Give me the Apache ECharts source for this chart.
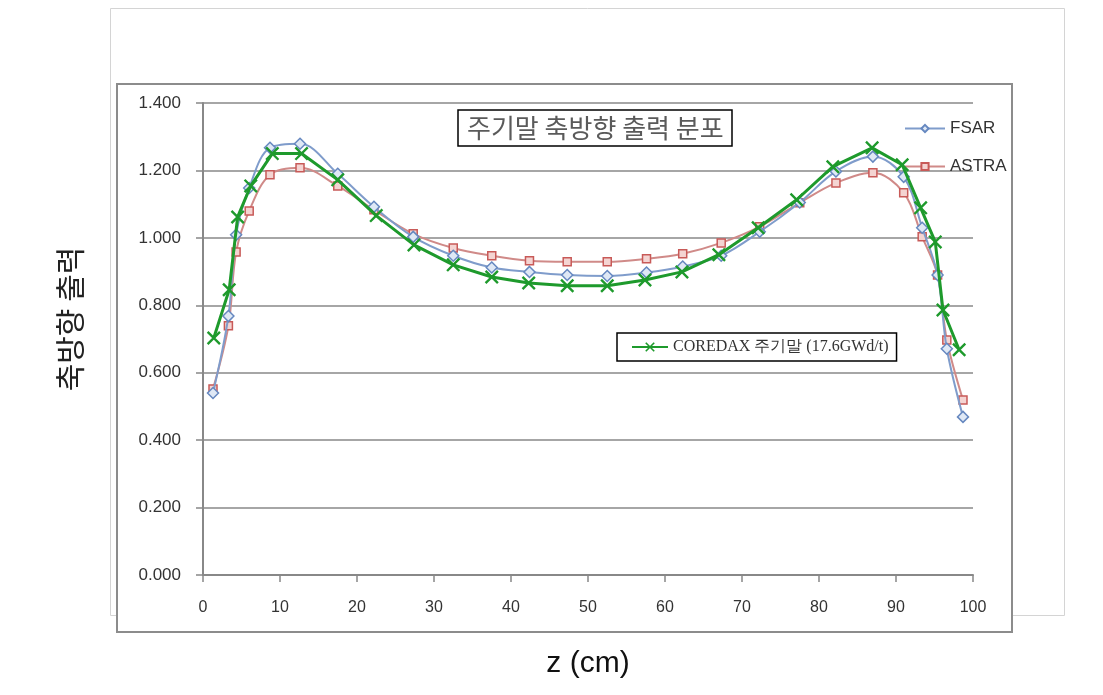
<!DOCTYPE html>
<html><head><meta charset="utf-8">
<script src="https://cdn.jsdelivr.net/npm/echarts@6/dist/echarts.min.js"></script>
<style>html,body{margin:0;padding:0;background:#fff}#c{width:1103px;height:695px}</style>
</head><body><div id="c"></div>
<script>
// Axial positions (cm)
const zNodes = [1.3, 3.3, 4.3, 6.0, 8.7, 12.6, 17.5, 22.2, 27.3, 32.5, 37.5, 42.4, 47.3, 52.5, 57.6, 62.3, 67.3, 72.3, 77.5, 82.2, 87.0, 91.0, 93.4, 95.4, 96.6, 98.7];
const fsar  = [0.540, 0.768, 1.009, 1.148, 1.267, 1.279, 1.190, 1.092, 1.003, 0.947, 0.912, 0.899, 0.890, 0.887, 0.897, 0.915, 0.947, 1.018, 1.105, 1.197, 1.241, 1.181, 1.030, 0.890, 0.671, 0.469];
const astra = [0.552, 0.739, 0.958, 1.080, 1.187, 1.208, 1.154, 1.083, 1.012, 0.970, 0.947, 0.932, 0.929, 0.929, 0.938, 0.953, 0.985, 1.033, 1.104, 1.163, 1.193, 1.134, 1.003, 0.890, 0.697, 0.519];
const zCoredax = [1.4, 3.4, 4.5, 6.2, 9.0, 12.8, 17.5, 22.5, 27.4, 32.5, 37.5, 42.3, 47.3, 52.5, 57.4, 62.2, 67.0, 72.1, 77.1, 81.8, 86.9, 90.8, 93.2, 95.1, 96.1, 98.2];
const coredax = [0.703, 0.846, 1.062, 1.154, 1.250, 1.250, 1.172, 1.066, 0.979, 0.920, 0.884, 0.866, 0.858, 0.858, 0.875, 0.899, 0.950, 1.030, 1.113, 1.211, 1.267, 1.217, 1.089, 0.988, 0.786, 0.668];
const seriesNames = ['FSAR', 'ASTRA', 'COREDAX 주기말 (17.6GWd/t)'];
const chartTitle = '주기말 축방향 출력 분포';
const xName = 'z (cm)';
const yName = '축방향 출력';

const pairs = (xs, ys) => xs.map((x, i) => [x, ys[i]]);
const xMark = 'path://M0,1.2L1.2,0L10,8.8L8.8,10Z M8.8,0L10,1.2L1.2,10L0,8.8Z';

const chart = echarts.init(document.getElementById('c'), null, {renderer: 'canvas'});
chart.setOption({
  animation: false,
  backgroundColor: '#fff',
  graphic: [
    {type: 'rect', shape: {x: 110.5, y: 8.5, width: 954, height: 607}, style: {fill: 'none', stroke: '#d4d4d4', lineWidth: 1}, silent: true, z: -10},
    {type: 'rect', shape: {x: 117, y: 84, width: 895, height: 548}, style: {fill: '#fff', stroke: '#8c8c8c', lineWidth: 2}, silent: true, z: -9}
  ],
  title: {
    text: chartTitle, left: 458, top: 110,
    padding: [4, 9, 3, 9],
    borderColor: '#000', borderWidth: 1.5,
    textStyle: {fontFamily: 'Noto Sans CJK KR', fontSize: 26, fontWeight: 'normal', color: '#5a5a5a', lineHeight: 29}
  },
  legend: [
    {
      data: [seriesNames[0], seriesNames[1]],
      orient: 'vertical', left: 899, top: 115, itemWidth: 40, itemHeight: 9, itemGap: 21,
      textStyle: {fontFamily: 'Liberation Sans', fontSize: 17, color: '#333'}
    },
    {
      data: [seriesNames[2]],
      left: 617, top: 333, itemWidth: 36, itemHeight: 12,
      padding: [6, 8, 6, 14],
      borderColor: '#000', borderWidth: 1.5,
      textStyle: {fontFamily: 'Liberation Serif', fontSize: 16, color: '#333'}
    }
  ],
  grid: {left: 203, right: 130, top: 103, bottom: 120, containLabel: false},
  xAxis: {
    type: 'value', min: 0, max: 100, interval: 10,
    name: xName, nameLocation: 'middle', nameGap: 74,
    nameTextStyle: {fontFamily: 'Liberation Sans', fontSize: 30, color: '#111'},
    axisLine: {show: true, onZero: false, lineStyle: {color: '#888', width: 2}},
    axisTick: {show: true, inside: false, length: 7, lineStyle: {color: '#888', width: 1.5}},
    axisLabel: {margin: 25, fontFamily: 'Liberation Sans', fontSize: 16, color: '#333'},
    splitLine: {show: false}
  },
  yAxis: {
    type: 'value', min: 0, max: 1.4, interval: 0.2,
    name: yName, nameLocation: 'middle', nameRotate: 90, nameGap: 118,
    nameTextStyle: {fontFamily: 'Noto Sans CJK KR', fontSize: 30, color: '#222', padding: [0, 0, 0, 40]},
    axisLine: {show: true, lineStyle: {color: '#888', width: 2}},
    axisTick: {show: true, inside: false, length: 7, lineStyle: {color: '#888', width: 1.5}},
    axisLabel: {margin: 22, fontFamily: 'Liberation Sans', fontSize: 17, color: '#333', formatter: v => v.toFixed(3)},
    splitLine: {show: true, lineStyle: {color: '#a6a6a6', width: 2}}
  },
  series: [
    {
      name: seriesNames[0], type: 'line', data: pairs(zNodes, fsar), smooth: 0.35,
      symbol: 'diamond', symbolSize: 11,
      lineStyle: {color: '#7f9ccb', width: 2},
      itemStyle: {color: '#dfe8f5', borderColor: '#6688c0', borderWidth: 1.5},
      z: 3
    },
    {
      name: seriesNames[1], type: 'line', data: pairs(zNodes, astra), smooth: 0.35,
      symbol: 'rect', symbolSize: 8,
      lineStyle: {color: '#d08a88', width: 2},
      itemStyle: {color: '#f4d4d2', borderColor: '#c85a58', borderWidth: 1.5},
      z: 2
    },
    {
      name: seriesNames[2], type: 'line', data: pairs(zCoredax, coredax), smooth: false,
      symbol: xMark, symbolSize: 14,
      lineStyle: {color: '#1e9a2c', width: 3},
      itemStyle: {color: '#1e9a2c', borderWidth: 0},
      z: 4
    }
  ]
});
</script>
</body></html>
